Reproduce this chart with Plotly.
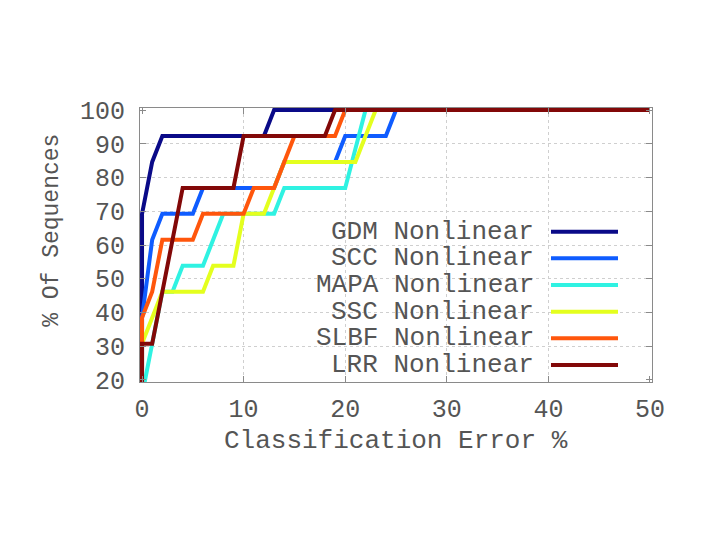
import plotly.graph_objects as go

# ---- data ----
series_names = ["GDM Nonlinear", "SCC Nonlinear", "MAPA Nonlinear",
                "SSC Nonlinear", "SLBF Nonlinear", "LRR Nonlinear"]

gdm_x = [0, 0, 1, 2, 12, 13, 50]
gdm_y = [0, 69.23, 84.62, 92.31, 92.31, 100, 100]

scc_x = [0, 0, 1, 2, 5, 6, 13, 14, 19, 20, 24, 25, 50]
scc_y = [0, 38.46, 61.54, 69.23, 69.23, 76.92, 76.92, 84.62, 84.62, 92.31, 92.31, 100, 100]

mapa_x = [0, 0, 1, 2, 3, 4, 6, 8, 13, 14, 20, 22, 50]
mapa_y = [0, 15.38, 30.77, 46.15, 46.15, 53.85, 53.85, 69.23, 69.23, 76.92, 76.92, 100, 100]

ssc_x = [0, 0, 1, 2, 6, 7, 9, 10, 12, 14, 21, 23, 50]
ssc_y = [0, 30.77, 38.46, 46.15, 46.15, 53.85, 53.85, 69.23, 69.23, 84.62, 84.62, 100, 100]

slbf_x = [0, 0, 1, 2, 5, 6, 10, 11, 13, 15, 19, 20, 50]
slbf_y = [0, 38.46, 46.15, 61.54, 61.54, 69.23, 69.23, 76.92, 76.92, 92.31, 92.31, 100, 100]

lrr_x = [0, 0, 1, 4, 9, 10, 18, 19, 50]
lrr_y = [0, 30.77, 30.77, 76.92, 76.92, 92.31, 92.31, 100, 100]

x_ticks = [0, 10, 20, 30, 40, 50]
y_ticks = [20, 30, 40, 50, 60, 70, 80, 90, 100]

colors = ["#0a0a88", "#0f5cff", "#2ff2e2", "#e4ff1e", "#ff560c", "#820808"]

xs = [gdm_x, scc_x, mapa_x, ssc_x, slbf_x, lrr_x]
ys = [gdm_y, scc_y, mapa_y, ssc_y, slbf_y, lrr_y]

FONT = "Liberation Mono"
TXT = "#555555"
AX = "#8a8a8a"
GRID = "#cfcfcf"

fig = go.Figure()
for name, x, y, c in zip(series_names, xs, ys, colors):
    fig.add_trace(go.Scatter(x=x, y=y, mode="lines", name=name,
                             line=dict(color=c, width=4), showlegend=False))

fig.update_layout(
    width=726, height=545,
    margin=dict(l=140, r=74, t=108, b=163),
    paper_bgcolor="white", plot_bgcolor="white",
    font=dict(family=FONT, color=TXT),
)

fig.update_xaxes(
    range=[-0.2, 50.2], tickmode="array", tickvals=x_ticks,
    ticktext=[str(v) for v in x_ticks],
    showline=True, linecolor=AX, linewidth=1, mirror="ticks",
    ticks="inside", ticklen=6, tickcolor=AX, tickwidth=1,
    showgrid=False, zeroline=False, automargin=False,
    tickfont=dict(family=FONT, size=25, color=TXT),
    ticklabelstandoff=4,
    minor=dict(tickmode="array", tickvals=x_ticks[1:-1], showgrid=True,
               gridcolor=GRID, griddash="dot", gridwidth=1, ticklen=0),
)
fig.update_yaxes(
    range=[19.4, 100.6], tickmode="array", tickvals=y_ticks,
    ticktext=[str(v) for v in y_ticks],
    showline=True, linecolor=AX, linewidth=1, mirror="ticks",
    ticks="inside", ticklen=6, tickcolor=AX, tickwidth=1,
    showgrid=False, zeroline=False, automargin=False,
    tickfont=dict(family=FONT, size=25, color=TXT),
    ticklabelstandoff=9,
    minor=dict(tickmode="array", tickvals=y_ticks[1:-1], showgrid=True,
               gridcolor=GRID, griddash="dot", gridwidth=1, ticklen=0),
)

# axis titles
fig.add_annotation(text="Classification Error %", xref="paper", yref="paper",
                   x=0.5, y=-0.215, xanchor="center", yanchor="middle",
                   showarrow=False, font=dict(family=FONT, size=26, color=TXT))
fig.add_annotation(text="% Of Sequences", xref="paper", yref="paper",
                   x=-0.172, y=0.555, xanchor="center", yanchor="middle",
                   textangle=-90, showarrow=False,
                   font=dict(family=FONT, size=23, color=TXT))

# gnuplot-style key: right-aligned text with line sample on its right
row_y = [0.5485, 0.4515, 0.354, 0.2566, 0.1595, 0.062]
for name, c, yy in zip(series_names, colors, row_y):
    fig.add_annotation(text=name, xref="paper", yref="paper", x=0.7725, y=yy,
                       xanchor="right", yanchor="middle", showarrow=False,
                       font=dict(family=FONT, size=26, color=TXT))
    fig.add_shape(type="line", xref="paper", yref="paper",
                  x0=0.8027, x1=0.9336, y0=yy, y1=yy,
                  line=dict(color=c, width=4))

fig.write_html("out.html",
               config={"displayModeBar": False},
               post_script="document.body.style.margin='0';document.body.style.padding='0';")
